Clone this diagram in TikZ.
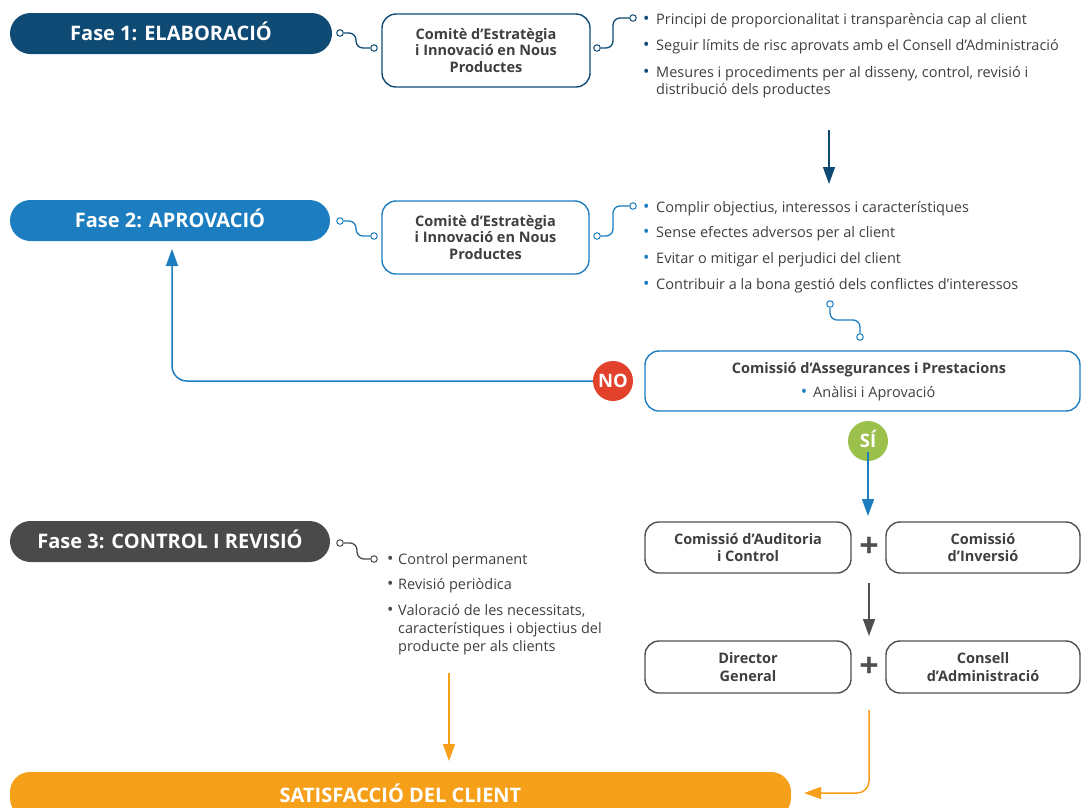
\documentclass[tikz,border=0pt]{standalone}
\usepackage{fontspec}
\setmainfont{Open Sans}
\usetikzlibrary{arrows.meta}
\definecolor{navy}{HTML}{0E4A74}
\definecolor{fblue}{HTML}{1C7DC0}
\definecolor{fgray}{HTML}{4A4A4A}
\definecolor{forange}{HTML}{F6A01A}
\definecolor{fred}{HTML}{E2412B}
\definecolor{fgreen}{HTML}{9CC04C}
\definecolor{txt}{HTML}{3F3F3F}
\definecolor{boxgray}{HTML}{505050}
\newcommand{\blt}[1]{\makebox[13pt][l]{\textcolor{#1}{\fontsize{17}{17}\selectfont•}}}
\begin{document}
\begin{tikzpicture}[x=1pt,y=-1pt,
  pill/.style={rectangle, rounded corners=20.5pt, minimum height=41pt, inner sep=0pt,
    text=white, text height=14.3pt, text depth=0pt, font=\fontsize{20}{24}\selectfont\bfseries},
  cbox/.style={rectangle, draw, line width=1.4pt, rounded corners=14pt, align=center,
    inner sep=0pt, text=txt, font=\fontsize{14.5}{16.8}\selectfont\bfseries},
  gbox/.style={cbox, draw=boxgray, minimum width=206pt, minimum height=51pt, font=\fontsize{14.5}{17.5}\selectfont\bfseries},
  item/.style={anchor=base west, inner sep=0pt, text=txt, font=\fontsize{14.5}{17}\selectfont},
  dotc/.style={circle, draw, fill=white, line width=1pt, inner sep=0pt, minimum size=6.5pt},
  squig/.style={line width=1.3pt, rounded corners=7pt},
  arr/.style={line width=1.5pt, -{Triangle[length=17pt,width=12pt]}},
  badge/.style={circle, minimum size=40pt, inner sep=0pt, text=white, text height=13pt, text depth=0pt,
    font=\fontsize{18.5}{20}\selectfont\bfseries},
  plus/.style={inner sep=0pt, text=boxgray, font=\fontsize{34}{34}\selectfont\bfseries}
]
\useasboundingbox (0,0) rectangle (1081,807);

% ---------- Fase 1 ----------
\node[pill, fill=navy, minimum width=322pt] (f1) at (171,33.5) {Fase 1: ELABORACIÓ};
\node[cbox, draw=navy, minimum width=208pt, minimum height=73pt] (b1) at (486,50.5)
  {Comitè d’Estratègia\\i Innovació en Nous\\Productes};
\node[dotc, draw=navy] (c1) at (340,33) {};
\node[dotc, draw=navy] (c2) at (374,48) {};
\node[dotc, draw=navy] (c3) at (597,48) {};
\node[dotc, draw=navy] (c4) at (633,18) {};
\draw[squig, navy] (c1) -| (356,48) -- (c2);
\draw[squig, navy] (c3) -| (613,18) -- (c4);
\node[item] (l11) at (643,24) {\blt{navy}Principi de proporcionalitat i transparència cap al client};
\node[item] (l12) at (643,50) {\blt{navy}Seguir límits de risc aprovats amb el Consell d’Administració};
\node[item] (l13) at (643,77) {\blt{navy}Mesures i procediments per al disseny, control, revisió i};
\node[item] (l14) at (656,94) {distribució dels productes};
\coordinate (a1s) at (829,130);
\coordinate (a1e) at (829,184);
\draw[arr, navy] (a1s) -- (a1e);

% ---------- Fase 2 ----------
\node[pill, fill=fblue, minimum width=320pt] (f2) at (170,220.5) {Fase 2: APROVACIÓ};
\node[cbox, draw=fblue, minimum width=207pt, minimum height=73pt] (b2) at (485.5,237.5)
  {Comitè d’Estratègia\\i Innovació en Nous\\Productes};
\node[dotc, draw=fblue] (c5) at (340,221) {};
\node[dotc, draw=fblue] (c6) at (374,236) {};
\node[dotc, draw=fblue] (c7) at (597,236) {};
\node[dotc, draw=fblue] (c8) at (633,206) {};
\draw[squig, fblue] (c5) -| (356,236) -- (c6);
\draw[squig, fblue] (c7) -| (613,206) -- (c8);
\node[item] (l21) at (643,212) {\blt{fblue}Complir objectius, interessos i característiques};
\node[item] (l22) at (643,237) {\blt{fblue}Sense efectes adversos per al client};
\node[item] (l23) at (643,263) {\blt{fblue}Evitar o mitigar el perjudici del client};
\node[item] (l24) at (643,289) {\blt{fblue}Contribuir a la bona gestió dels conflictes d’interessos};
\node[dotc, draw=fblue] (c9) at (830,304) {};
\node[dotc, draw=fblue] (c10) at (860,337) {};
\draw[squig, fblue] (c9) |- (860,320) -- (c10);

\node[cbox, draw=fblue, minimum width=435pt, minimum height=60pt] (b3) at (862.5,381) {};
\node[inner sep=0pt, anchor=base, text=txt, font=\fontsize{14.5}{17}\selectfont\bfseries] (b3t) at (869,373)
  {Comissió d’Assegurances i Prestacions};
\node[inner sep=0pt, anchor=base, text=txt, font=\fontsize{14.5}{17}\selectfont] (b3s) at (868,397)
  {\textcolor{fblue}{\fontsize{17}{17}\selectfont•}\hspace{6pt}Anàlisi i Aprovació};

\node[badge, fill=fred] (no) at (613,381) {NO};
\node[badge, fill=fgreen] (si) at (868,441) {SÍ};
\coordinate (f2in) at (172,249);
\draw[arr, fblue, rounded corners=15pt] (no.west) -- (172,381) -- (f2in);
\coordinate (sie) at (868,516);
\draw[arr, fblue] ([yshift=9pt]si.south) -- (sie);

% ---------- Commissions ----------
\node[gbox] (aud) at (748,547.5) {Comissió d’Auditoria\\i Control};
\node[gbox, minimum width=194pt] (inv) at (983,547.5) {Comissió\\d’Inversió};
\node[plus] (p1) at (869,547) {+};
\coordinate (g1s) at (869,583);
\coordinate (g1e) at (869,636);
\draw[arr, boxgray] (g1s) -- (g1e);
\node[gbox, minimum height=52pt] (dg) at (748,667) {Director\\General};
\node[gbox, minimum width=194pt, minimum height=52pt] (ca) at (983,667) {Consell\\d’Administració};
\node[plus] (p2) at (869,667) {+};

% ---------- Fase 3 ----------
\node[pill, fill=fgray, minimum width=320pt] (f3) at (170,541.5) {Fase 3: CONTROL I REVISIÓ};
\node[dotc, draw=fgray] (c11) at (340,543) {};
\node[dotc, draw=fgray] (c12) at (374,559) {};
\draw[squig, fgray] (c11) -| (357,559) -- (c12);
\node[item] (l31) at (387,564) {\makebox[11pt][l]{\textcolor{fgray}{\fontsize{17}{17}\selectfont•}}Control permanent};
\node[item] (l32) at (387,589) {\makebox[11pt][l]{\textcolor{fgray}{\fontsize{17}{17}\selectfont•}}Revisió periòdica};
\node[item] (l33) at (387,615) {\makebox[11pt][l]{\textcolor{fgray}{\fontsize{17}{17}\selectfont•}}Valoració de les necessitats,};
\node[item] (l34) at (398,633) {característiques i objectius del};
\node[item] (l35) at (398,651) {producte per als clients};

% ---------- Satisfaccio ----------
\node[pill, fill=forange, minimum width=781pt, minimum height=46pt, rounded corners=20pt] (sat) at (400.5,795) {SATISFACCIÓ DEL CLIENT};
\coordinate (o1s) at (449,673);
\coordinate (o1e) at (449,761);
\draw[arr, forange] (o1s) -- (o1e);
\coordinate (o2s) at (869,710);
\coordinate (o2e) at (804,793);
\draw[arr, forange, rounded corners=12pt] (o2s) -- (869,793) -- (o2e);
\end{tikzpicture}
\end{document}
